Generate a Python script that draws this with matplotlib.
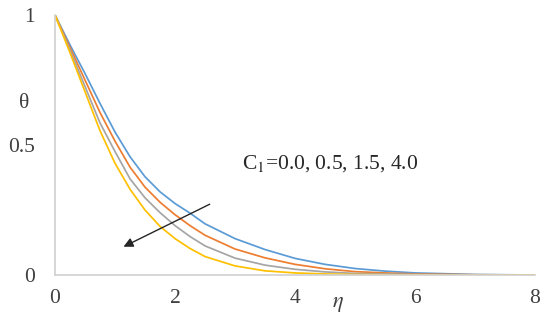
import numpy as np
import matplotlib
matplotlib.use('Agg')
import matplotlib.pyplot as plt

plt.rcParams['font.family'] = ['Liberation Serif', 'DejaVu Serif']
plt.rcParams['mathtext.fontset'] = 'stix'

# eta values and temperature profiles
eta = [0, 0.25, 0.5, 0.75, 1, 1.25, 1.5, 1.75, 2, 2.25, 2.5, 3, 3.5, 4, 4.5, 5, 5.5, 6, 7, 8]
theta_c0 = [1, 0.885, 0.775, 0.66, 0.55, 0.455, 0.378, 0.32, 0.275, 0.238, 0.197, 0.14, 0.098, 0.064, 0.041, 0.025, 0.015, 0.008, 0.002, 0]
theta_c05 = [1, 0.875, 0.75, 0.625, 0.515, 0.415, 0.338, 0.28, 0.232, 0.19, 0.153, 0.10, 0.066, 0.041, 0.024, 0.013, 0.008, 0.004, 0.001, 0]
theta_c15 = [1, 0.865, 0.725, 0.585, 0.475, 0.37, 0.297, 0.24, 0.19, 0.148, 0.112, 0.065, 0.038, 0.022, 0.012, 0.006, 0.004, 0.002, 0, 0]
theta_c40 = [1, 0.855, 0.705, 0.555, 0.43, 0.33, 0.25, 0.187, 0.14, 0.102, 0.071, 0.035, 0.016, 0.008, 0.004, 0.002, 0.001, 0, 0, 0]

series = [theta_c0, theta_c05, theta_c15, theta_c40]
colors = ['#5B9BD5', '#ED7D31', '#A5A5A5', '#FFC000']

xticks = [0, 2, 4, 6, 8]
yticks = [0, 0.5, 1]
ytick_labels = ['0', '0.5', '1']

fig = plt.figure(figsize=(5.5, 3.24), dpi=100)
ax = fig.add_axes([0.1, 0.1512, 0.8727, 0.8025])

for s, c in zip(series, colors):
    ax.plot(eta, s, color=c, lw=1.25, solid_joinstyle='round')

ax.set_xlim(0, 8)
ax.set_ylim(0, 1)
ax.set_xticks(xticks)
ax.set_yticks(yticks)
ax.set_yticklabels(ytick_labels)
ax.tick_params(axis='both', length=0, labelsize=15.5, colors='#404040')
ax.tick_params(axis='y', pad=14.4)
ax.tick_params(axis='x', pad=10)

for side in ['top', 'right']:
    ax.spines[side].set_visible(False)
for side in ['left', 'bottom']:
    ax.spines[side].set_color('#D0D0D0')
    ax.spines[side].set_linewidth(1.2)

# axis labels sit inside the figure like in the original
fig.text(24 / 550, 1 - 103 / 324, r'θ', fontsize=15.5, color='#404040', ha='center', va='center')
fig.text(338 / 550, 1 - 305 / 324, r'$\eta$', fontsize=16, color='#404040', ha='center', va='center')

ax.text(3.12, 0.427, r'C$_{1}$=0.0, 0.5, 1.5, 4.0', fontsize=15.5, color='#262626', ha='left', va='center')
ax.annotate('', xy=(1.1, 0.104), xytext=(2.62, 0.277),
            arrowprops=dict(arrowstyle='-|>', color='#262626', lw=1.0, mutation_scale=14))

fig.savefig('out.png', dpi=100)
